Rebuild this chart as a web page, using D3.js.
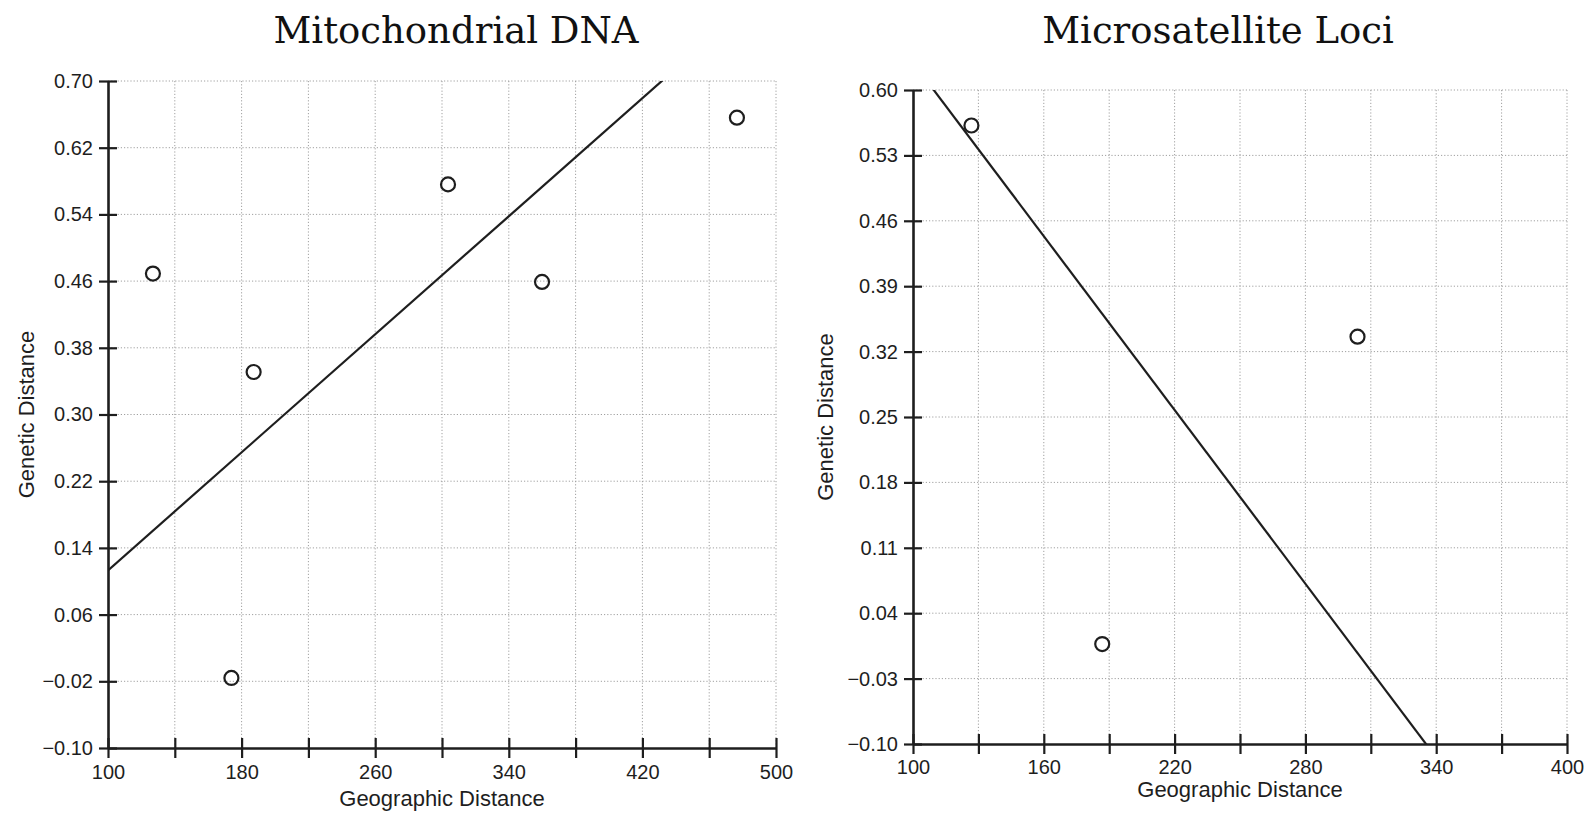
<!DOCTYPE html>
<html>
<head>
<meta charset="utf-8">
<script src="https://cdn.jsdelivr.net/npm/d3@7"></script>
<style>
  html, body { margin: 0; padding: 0; background: #fff; }
  svg { display: block; }
  .tick text { font-family: "Liberation Sans", Arial, sans-serif; font-size: 20px; fill: #1e1e1e; }
  .axis-title { font-family: "Liberation Sans", Arial, sans-serif; font-size: 22px; fill: #1e1e1e; }
  .chart-title { font-family: "DejaVu Serif", Georgia, serif; font-size: 37px; fill: #111; }
</style>
</head>
<body>
<svg id="chart" width="1593" height="814"></svg>
<script>
// ---- Mitochondrial DNA panel ----
const mtTitle = "Mitochondrial DNA";
const mtGeo = [126.9, 187.2, 173.9, 303.6, 359.9, 476.6];
const mtGen = [0.469, 0.351, -0.016, 0.576, 0.459, 0.656];
const mtFit = { intercept: 0.113, slope: 0.00177 };   // genetic = intercept + slope * (geo - 100)
const mtXDomain = [100, 500];
const mtYDomain = [-0.10, 0.70];
const mtXTicks = [100, 140, 180, 220, 260, 300, 340, 380, 420, 460, 500];
const mtXLabels = [100, 180, 260, 340, 420, 500];
const mtYTicks = [-0.10, -0.02, 0.06, 0.14, 0.22, 0.30, 0.38, 0.46, 0.54, 0.62, 0.70];

// ---- Microsatellite panel ----
const msTitle = "Microsatellite Loci";
const msGeo = [126.8, 186.8, 303.9];
const msGen = [0.562, 0.007, 0.336];
const msFit = { intercept: 0.6295, slope: -0.0031 };
const msXDomain = [100, 400];
const msYDomain = [-0.10, 0.60];
const msXTicks = [100, 130, 160, 190, 220, 250, 280, 310, 340, 370, 400];
const msXLabels = [100, 160, 220, 280, 340, 400];
const msYTicks = [-0.10, -0.03, 0.04, 0.11, 0.18, 0.25, 0.32, 0.39, 0.46, 0.53, 0.60];

const xLabel = "Geographic Distance";
const yLabel = "Genetic Distance";

const svg = d3.select("#chart");
const ink = "#1e1e1e";

function panel(cfg) {
  const x = d3.scaleLinear().domain(cfg.xDomain).range([cfg.left, cfg.right]);
  const y = d3.scaleLinear().domain(cfg.yDomain).range([cfg.bottom, cfg.top]);
  const g = svg.append("g");

  // dotted grid at every tick
  const grid = g.append("g").attr("stroke", "#a0a0a0").attr("stroke-width", 1)
    .attr("stroke-dasharray", "1.2,2");
  grid.selectAll("line.v").data(cfg.xTicks.slice(1)).join("line")
    .attr("x1", d => x(d)).attr("x2", d => x(d))
    .attr("y1", cfg.top).attr("y2", cfg.bottom);
  grid.selectAll("line.h").data(cfg.yTicks.slice(1)).join("line")
    .attr("x1", cfg.left).attr("x2", cfg.right)
    .attr("y1", d => y(d)).attr("y2", d => y(d));

  // axes
  const fmtY = d3.format(".2f");
  const yAxis = d3.axisLeft(y).tickValues(cfg.yTicks).tickFormat(fmtY)
    .tickSizeInner(9).tickSizeOuter(0).tickPadding(6);
  const yg = g.append("g").attr("transform", `translate(${cfg.left},0)`).call(yAxis);
  yg.selectAll(".tick line").attr("x1", 9);

  const xAxis = d3.axisBottom(x).tickValues(cfg.xTicks)
    .tickFormat(d => cfg.xLabels.includes(d) ? String(d) : "")
    .tickSizeInner(10).tickSizeOuter(0).tickPadding(cfg.xPad);
  const xg = g.append("g").attr("transform", `translate(0,${cfg.bottom})`).call(xAxis);
  xg.selectAll(".tick line").attr("y1", -10);

  [yg, xg].forEach(a => {
    a.select(".domain").attr("stroke", ink).attr("stroke-width", 2.6);
    a.selectAll(".tick line").attr("stroke", ink).attr("stroke-width", 2.2);
  });

  // fitted line, clipped to the plot area
  const clipId = "clip-" + cfg.id;
  svg.append("defs").append("clipPath").attr("id", clipId)
    .append("rect").attr("x", cfg.left).attr("y", cfg.top)
    .attr("width", cfg.right - cfg.left).attr("height", cfg.bottom - cfg.top);
  const fitAt = v => cfg.fit.intercept + cfg.fit.slope * (v - cfg.xDomain[0]);
  const lineGen = d3.line().x(d => x(d)).y(d => y(fitAt(d)));
  g.append("path").datum(cfg.xDomain)
    .attr("clip-path", `url(#${clipId})`)
    .attr("d", lineGen).attr("fill", "none").attr("stroke", ink).attr("stroke-width", 2.2);

  // observations
  g.selectAll("circle.pt").data(d3.zip(cfg.geo, cfg.gen)).join("circle")
    .attr("cx", d => x(d[0])).attr("cy", d => y(d[1])).attr("r", 7)
    .attr("fill", "none").attr("stroke", ink).attr("stroke-width", 2.2);

  // titles
  g.append("text").attr("class", "chart-title").attr("text-anchor", "middle")
    .attr("x", cfg.titleX).attr("y", cfg.titleY).text(cfg.title);
  g.append("text").attr("class", "axis-title").attr("text-anchor", "middle")
    .attr("x", (cfg.left + cfg.right) / 2).attr("y", cfg.xLabelY).text(xLabel);
  g.append("text").attr("class", "axis-title").attr("text-anchor", "middle")
    .attr("transform", `translate(${cfg.yLabelX},${(cfg.top + cfg.bottom) / 2}) rotate(-90)`)
    .text(yLabel);
}

panel({
  id: "mt", title: mtTitle, geo: mtGeo, gen: mtGen, fit: mtFit,
  xDomain: mtXDomain, yDomain: mtYDomain, xTicks: mtXTicks, xLabels: mtXLabels, yTicks: mtYTicks,
  left: 108, right: 776, top: 81, bottom: 748, xPad: 7,
  titleX: 456, titleY: 43, xLabelY: 806, yLabelX: 34
});

panel({
  id: "ms", title: msTitle, geo: msGeo, gen: msGen, fit: msFit,
  xDomain: msXDomain, yDomain: msYDomain, xTicks: msXTicks, xLabels: msXLabels, yTicks: msYTicks,
  left: 913, right: 1567, top: 90, bottom: 744, xPad: 6,
  titleX: 1218, titleY: 43, xLabelY: 797, yLabelX: 833
});
</script>
</body>
</html>
